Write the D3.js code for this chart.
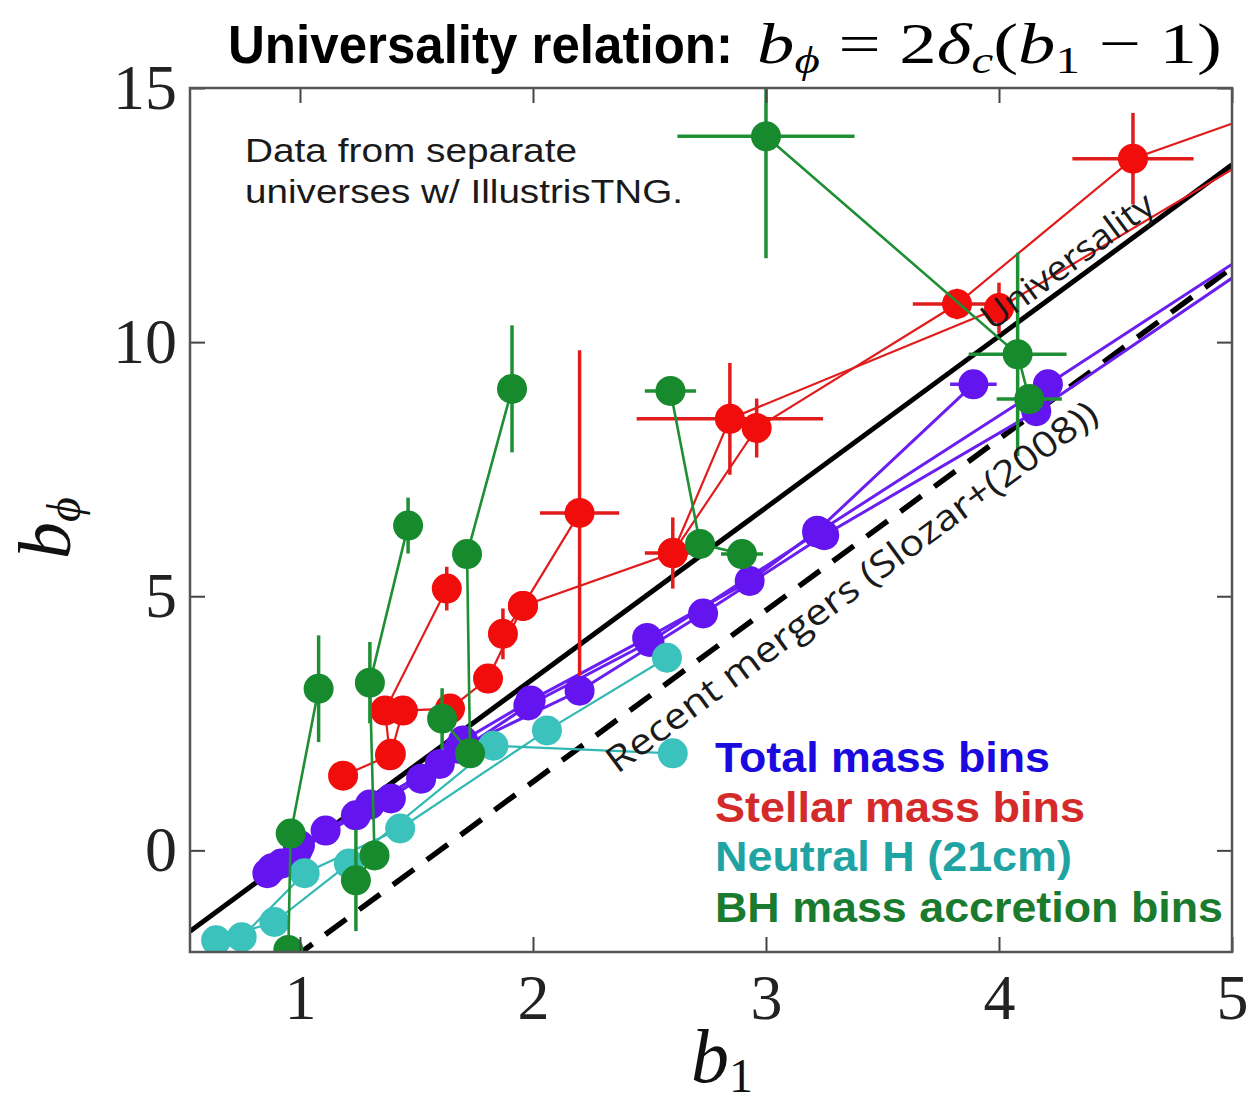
<!DOCTYPE html>
<html>
<head>
<meta charset="utf-8">
<script src="https://cdn.jsdelivr.net/npm/d3@7/dist/d3.min.js"></script>
<style>
    body { margin: 0; background: #fff; }
    svg { display: block; }
</style>
</head>
<body>
<div id="chart"></div>
<script>
    "use strict";

    // each point: [b1, b_phi, err_b1, err_b_phi]
    var totalMassBins = [
        [[0.86, -0.45, 0, 0], [0.99, 0.0, 0, 0], [1.24, 0.69, 0, 0], [1.52, 1.41, 0, 0], [1.70, 2.16, 0, 0], [1.99, 2.95, 0, 0], [2.49, 4.18, 0, 0], [2.93, 5.30, 0, 0], [3.22, 6.29, 0, 0], [3.89, 9.17, 0.10, 0]],
        [[0.92, -0.26, 0, 0], [1.11, 0.39, 0, 0], [1.39, 1.02, 0, 0], [1.68, 2.00, 0, 0], [2.20, 3.14, 0, 0], [2.73, 4.66, 0, 0], [3.25, 6.20, 0, 0], [4.16, 8.64, 0, 0], [5.10, 11.57, 0, 0]],
        [[0.88, -0.35, 0, 0], [1.00, 0.10, 0, 0], [1.30, 0.90, 0, 0], [1.60, 1.70, 0, 0], [1.98, 2.85, 0, 0], [2.50, 4.10, 0, 0], [3.22, 6.25, 0, 0], [4.21, 9.17, 0.05, 0], [5.10, 11.83, 0, 0]]
    ];
    var stellarMassBins = [
        [[1.185, 1.47, 0, 0], [1.386, 1.87, 0, 0], [1.365, 2.75, 0, 0], [1.63, 5.15, 0, 0.43]],
        [[1.39, 1.90, 0, 0], [1.442, 2.75, 0, 0], [1.644, 2.79, 0, 0], [1.807, 3.38, 0, 0], [1.957, 4.81, 0, 0], [2.20, 6.64, 0.17, 3.2]],
        [[1.871, 4.26, 0, 0.5], [1.957, 4.81, 0, 0], [2.60, 5.85, 0.12, 0.7], [2.96, 8.31, 0.05, 0.58], [3.82, 10.75, 0.19, 0.3], [4.575, 13.61, 0.26, 0.9], [5.10, 14.46, 0, 0]],
        [[2.60, 5.85, 0, 0], [2.845, 8.49, 0.40, 1.1], [4.00, 10.67, 0, 0.5], [5.10, 13.67, 0, 0]]
    ];
    var neutralHBins = [
        [[0.64, -1.77, 0, 0], [0.89, -1.41, 0, 0], [1.21, -0.26, 0, 0], [1.83, 2.06, 0, 0], [2.60, 1.91, 0, 0]],
        [[0.75, -1.71, 0, 0], [1.02, -0.45, 0, 0], [1.43, 0.43, 0, 0], [2.06, 2.36, 0, 0], [2.575, 3.79, 0, 0]]
    ];
    var bhAccretionBins = [
        [[0.95, -1.96, 0, 0], [0.96, 0.33, 0, 0], [1.08, 3.18, 0, 1.05]],
        [[1.24, -0.59, 0, 1.0], [1.32, -0.10, 0, 0], [1.30, 3.30, 0, 0.8], [1.464, 6.39, 0, 0.55]],
        [[1.61, 2.59, 0, 0.6], [1.73, 1.91, 0, 0], [1.717, 5.83, 0, 0], [1.91, 9.08, 0, 1.25]],
        [[2.59, 9.04, 0.11, 0], [2.717, 6.03, 0, 0], [2.897, 5.83, 0.09, 0]],
        [[3.00, 14.05, 0.38, 2.4], [4.08, 9.76, 0.21, 2.0], [4.13, 8.88, 0.14, 0]]
    ];

    var xTicks = [1, 2, 3, 4, 5];
    var yTicks = [0, 5, 10, 15];
    var legendLabels = ["Total mass bins", "Stellar mass bins", "Neutral H (21cm)", "BH mass accretion bins"];
    var legendColors = ["#1a0ae0", "#d42a2a", "#1fa3a3", "#1a7a2d"];
    var deltaC = 1.686;
    var universalityP = 1.0;
    var mergersP = 1.6;

    var width = 1249, height = 1106;
    var plotLeft = 190, plotRight = 1232, plotTop = 88, plotBottom = 952;

    var svg = d3.select("#chart")
        .append("svg")
        .attr("width", width)
        .attr("height", height);

    var x = d3.scaleLinear().domain([0.528, 5]).range([plotLeft, plotRight]);
    var y = d3.scaleLinear().domain([-2, 15]).range([plotBottom, plotTop]);

    svg.append("clipPath")
        .attr("id", "plotClip")
        .append("rect")
        .attr("x", plotLeft)
        .attr("y", plotTop)
        .attr("width", plotRight - plotLeft)
        .attr("height", plotBottom - plotTop);

    var lineGen = d3.line()
        .x(function(d) { return x(d[0]); })
        .y(function(d) { return y(d[1]); });

    function relation(p) {
        return x.domain().map(function(b) { return [b, 2 * deltaC * (b - p)]; });
    }

    // reference relations
    var refs = svg.append("g").attr("clip-path", "url(#plotClip)");
    refs.append("path")
        .attr("d", lineGen(relation(universalityP)))
        .attr("fill", "none")
        .attr("stroke", "#000")
        .attr("stroke-width", 5);
    refs.append("path")
        .attr("d", lineGen(relation(mergersP)))
        .attr("fill", "none")
        .attr("stroke", "#000")
        .attr("stroke-width", 5.5)
        .attr("stroke-dasharray", "26,16");

    function drawBins(lines, markerColor, lineColor, lineWidth) {
        var g = svg.append("g").attr("clip-path", "url(#plotClip)");
        var pts = lines.reduce(function(a, l) { return a.concat(l); }, []);

        g.selectAll("path.bin")
            .data(lines)
            .enter()
            .append("path")
            .attr("class", "bin")
            .attr("d", function(d) { return lineGen(d); })
            .attr("fill", "none")
            .attr("stroke", lineColor)
            .attr("stroke-width", lineWidth);

        g.selectAll("line.ex")
            .data(pts.filter(function(p) { return p[2] > 0; }))
            .enter()
            .append("line")
            .attr("class", "ex")
            .attr("x1", function(p) { return x(p[0] - p[2]); })
            .attr("x2", function(p) { return x(p[0] + p[2]); })
            .attr("y1", function(p) { return y(p[1]); })
            .attr("y2", function(p) { return y(p[1]); })
            .attr("stroke", lineColor)
            .attr("stroke-width", 3.5);

        g.selectAll("line.ey")
            .data(pts.filter(function(p) { return p[3] > 0; }))
            .enter()
            .append("line")
            .attr("class", "ey")
            .attr("x1", function(p) { return x(p[0]); })
            .attr("x2", function(p) { return x(p[0]); })
            .attr("y1", function(p) { return y(p[1] - p[3]); })
            .attr("y2", function(p) { return y(p[1] + p[3]); })
            .attr("stroke", lineColor)
            .attr("stroke-width", 3.5);

        g.selectAll("circle")
            .data(pts)
            .enter()
            .append("circle")
            .attr("cx", function(p) { return x(p[0]); })
            .attr("cy", function(p) { return y(p[1]); })
            .attr("r", 15)
            .attr("fill", markerColor);
    }

    drawBins(totalMassBins, "#6414ee", "#6a1ef0", 3);
    drawBins(stellarMassBins, "#f20d0d", "#e01c1c", 2.2);
    drawBins(neutralHBins, "#3cc2bd", "#33b8b4", 2.2);
    drawBins(bhAccretionBins, "#178a2e", "#1f8f35", 2.6);

    // axes, ticks pointing inwards
    function styleAxis(g) {
        g.select(".domain").remove();
        g.selectAll(".tick line").attr("stroke", "#444").attr("stroke-width", 2);
        g.selectAll(".tick text")
            .attr("fill", "#222")
            .style("font-family", "'Liberation Serif', 'Times New Roman', serif")
            .style("font-size", "64px");
    }

    svg.append("g")
        .attr("transform", "translate(0," + plotBottom + ")")
        .call(d3.axisBottom(x).tickValues(xTicks).tickSizeInner(-15).tickSizeOuter(0).tickPadding(22).tickFormat(d3.format("d")))
        .call(styleAxis);
    svg.append("g")
        .attr("transform", "translate(0," + plotTop + ")")
        .call(d3.axisTop(x).tickValues(xTicks).tickSizeInner(-15).tickSizeOuter(0).tickFormat(""))
        .call(styleAxis);
    svg.append("g")
        .attr("transform", "translate(" + plotLeft + ",0)")
        .call(d3.axisLeft(y).tickValues(yTicks).tickSizeInner(-15).tickSizeOuter(0).tickPadding(13).tickFormat(d3.format("d")))
        .call(styleAxis);
    svg.append("g")
        .attr("transform", "translate(" + plotRight + ",0)")
        .call(d3.axisRight(y).tickValues(yTicks).tickSizeInner(-15).tickSizeOuter(0).tickFormat(""))
        .call(styleAxis);

    svg.append("rect")
        .attr("x", plotLeft)
        .attr("y", plotTop)
        .attr("width", plotRight - plotLeft)
        .attr("height", plotBottom - plotTop)
        .attr("fill", "none")
        .attr("stroke", "#555")
        .attr("stroke-width", 2.5);

    // axis labels
    var serif = "'Liberation Serif', 'Times New Roman', serif";
    var yLab = svg.append("text")
        .attr("transform", "translate(70,528) rotate(-90)")
        .attr("text-anchor", "middle")
        .style("font-family", serif)
        .style("font-size", "74px")
        .style("font-style", "italic")
        .attr("fill", "#111");
    yLab.append("tspan").text("b");
    yLab.append("tspan").attr("dy", 10).style("font-size", "48px").text("\u03D5");

    var xLab = svg.append("text")
        .attr("x", 722)
        .attr("y", 1082)
        .attr("text-anchor", "middle")
        .style("font-family", serif)
        .style("font-size", "76px")
        .attr("fill", "#111");
    xLab.append("tspan").style("font-style", "italic").text("b");
    xLab.append("tspan").attr("dy", 10).style("font-size", "48px").text("1");

    // title
    svg.append("text")
        .attr("x", 228)
        .attr("y", 63)
        .attr("textLength", 505)
        .attr("lengthAdjust", "spacingAndGlyphs")
        .style("font-family", "'Liberation Sans', Arial, sans-serif")
        .style("font-weight", "bold")
        .style("font-size", "53px")
        .attr("fill", "#000")
        .text("Universality relation:");

    var mathTitle = svg.append("text")
        .attr("x", 757)
        .attr("y", 63)
        .style("font-family", serif)
        .style("font-size", "58px")
        .attr("fill", "#000");
    mathTitle.append("tspan").style("font-style", "italic").text("b");
    mathTitle.append("tspan").attr("dy", 10).style("font-style", "italic").style("font-size", "38px").text("\u03D5");
    mathTitle.append("tspan").attr("dy", -10).text(" = 2");
    mathTitle.append("tspan").style("font-style", "italic").text("\u03B4");
    mathTitle.append("tspan").attr("dy", 10).style("font-style", "italic").style("font-size", "38px").text("c");
    mathTitle.append("tspan").attr("dy", -10).text("(");
    mathTitle.append("tspan").style("font-style", "italic").text("b");
    mathTitle.append("tspan").attr("dy", 10).style("font-size", "38px").text("1");
    mathTitle.append("tspan").attr("dy", -10).text(" \u2212 1)");
    var mw = mathTitle.node().getBBox().width;
    mathTitle.attr("transform", "translate(757,0) scale(" + (465 / mw) + ",1) translate(-757,0)");

    // annotation
    var note = svg.append("g")
        .style("font-family", "'Liberation Sans', Arial, sans-serif")
        .style("font-size", "33px")
        .attr("fill", "#1a1a1a");
    note.append("text").attr("x", 245).attr("y", 162)
        .attr("textLength", 332).attr("lengthAdjust", "spacingAndGlyphs")
        .text("Data from separate");
    note.append("text").attr("x", 245).attr("y", 203)
        .attr("textLength", 438).attr("lengthAdjust", "spacingAndGlyphs")
        .text("universes w/ IllustrisTNG.");

    // labels along the relations
    var angle = Math.atan2(y(2 * deltaC) - y(0), x(2) - x(1)) * 180 / Math.PI;
    var uB = 3.99;
    svg.append("text")
        .attr("transform", "translate(" + x(uB) + "," + y(2 * deltaC * (uB - universalityP)) + ") rotate(" + angle + ")")
        .attr("x", 0)
        .attr("y", -8)
        .attr("textLength", 205)
        .attr("lengthAdjust", "spacingAndGlyphs")
        .style("font-family", "'Open Sans', 'Liberation Sans', sans-serif")
        .style("font-size", "35px")
        .attr("fill", "#1a1a1a")
        .text("Universality");

    var mB = 2.25;
    svg.append("text")
        .attr("transform", "translate(" + x(mB) + "," + y(2 * deltaC * (mB - mergersP)) + ") rotate(" + angle + ")")
        .attr("x", 0)
        .attr("y", 44)
        .attr("textLength", 600)
        .attr("lengthAdjust", "spacingAndGlyphs")
        .style("font-family", "'Open Sans', 'Liberation Sans', sans-serif")
        .style("font-size", "36px")
        .attr("fill", "#1a1a1a")
        .text("Recent mergers (Slozar+(2008))");

    // legend
    var legendBaselines = [772, 822, 871, 922];
    var legendWidths = [335, 370, 357, 508];
    svg.append("g")
        .selectAll("text")
        .data(legendLabels)
        .enter()
        .append("text")
        .attr("x", 715)
        .attr("y", function(d, i) { return legendBaselines[i]; })
        .attr("textLength", function(d, i) { return legendWidths[i]; })
        .attr("lengthAdjust", "spacingAndGlyphs")
        .style("font-family", "'Liberation Sans', Arial, sans-serif")
        .style("font-weight", "bold")
        .style("font-size", "42px")
        .attr("fill", function(d, i) { return legendColors[i]; })
        .text(function(d) { return d; });
</script>
</body>
</html>
